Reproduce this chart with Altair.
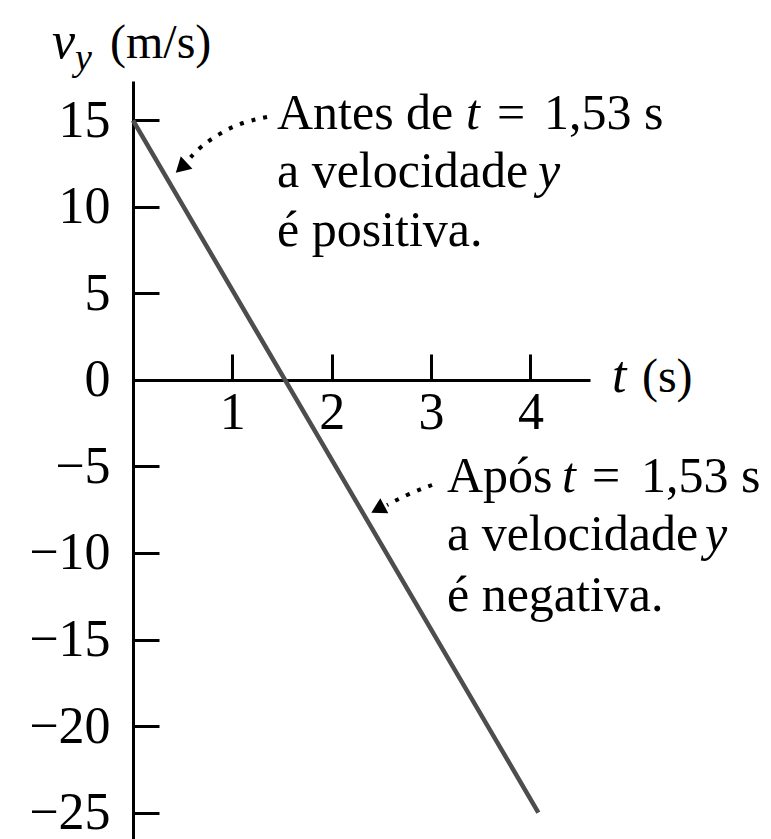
import altair as alt
import pandas as pd

# Vertical velocity of a ball thrown upward at 15 m/s (t in s, v_y in m/s)
t_line = [0.0, 1.53, 4.08]
v_line = [15.0, 0.0, -25.0]

x_ticks = [1, 2, 3, 4]
y_ticks = [15, 10, 5, 0, -5, -10, -15, -20, -25]

x_domain = [0.0, 4.6]
y_domain = [-26.53, 17.28]

# dotted pointer arrows (axis units), drawn in order
arrow_id = [1, 1, 1, 1, 1, 2, 2, 2]
arrow_seq = [0, 1, 2, 3, 4, 0, 1, 2]
arrow_t = [1.349, 1.107, 0.876, 0.674, 0.574, 3.010, 2.768, 2.557]
arrow_v = [15.20, 14.91, 14.28, 13.47, 12.83, -6.07, -6.59, -7.23]

head_t = [0.503, 2.486]
head_v = [12.37, -7.40]
head_angle = [227, 242]

# upright annotation text
note_txt = ["Antes de", "=", "1,53 s", "a velocidade", "é positiva.",
            "Após", "=", "1,53 s", "a velocidade", "é negativa."]
note_t = [1.449, 3.664, 4.137, 1.449, 1.449, 3.160, 4.620, 5.113, 3.160, 3.160]
note_v = [14.51, 14.51, 14.51, 11.16, 7.75, -6.47, -6.47, -6.47, -9.83, -13.35]

# italic symbols inside the annotations
sym_txt = ["t", "y", "t", "y"]
sym_t = [3.352, 4.077, 4.318, 5.757]
sym_v = [14.51, 11.16, -6.47, -9.83]

# axis titles: v_y (m/s) and t (s)
title_txt = ["(m/s)", "(s)"]
title_t = [-0.2315, 5.123]
title_v = [18.61, -0.69]
title_sym = ["v", "t"]
title_sym_t = [-0.815, 4.821]
title_sym_v = [18.61, -0.69]
sub_txt = ["y"]
sub_t = [-0.584]
sub_v = [17.9]

W, H = 457, 758
FONT = "Liberation Serif"

px_per_v = H / (y_domain[1] - y_domain[0])
zero_y = y_domain[1] * px_per_v  # pixel row of v = 0 from the top of the plot

line_df = pd.DataFrame({"t": t_line, "v": v_line})
arrow_df = pd.DataFrame({"id": arrow_id, "seq": arrow_seq, "t": arrow_t, "v": arrow_v})
head_df = pd.DataFrame({"t": head_t, "v": head_v, "angle": head_angle})
note_df = pd.DataFrame({"t": note_t, "v": note_v, "txt": note_txt})
sym_df = pd.DataFrame({"t": sym_t, "v": sym_v, "txt": sym_txt})
title_df = pd.DataFrame({"t": title_t, "v": title_v, "txt": title_txt})
title_sym_df = pd.DataFrame({"t": title_sym_t, "v": title_sym_v, "txt": title_sym})
sub_df = pd.DataFrame({"t": sub_t, "v": sub_v, "txt": sub_txt})

x_scale = alt.Scale(domain=x_domain, nice=False, zero=False)
y_scale = alt.Scale(domain=y_domain, nice=False, zero=False)

label_style = dict(labelFont=FONT, labelFontSize=52, labelColor="black",
                   grid=False, title="")

# velocity line; carries the labelled axes (x axis crossing at v = 0)
velocity = alt.Chart(line_df).mark_line(color="#4d4d4d", strokeWidth=4.5).encode(
    x=alt.X("t:Q", scale=x_scale,
            axis=alt.Axis(orient="bottom", offset=-(H - zero_y), values=x_ticks,
                          ticks=False, tickSize=0, domainColor="black", domainWidth=3,
                          labelPadding=8, labelFlush=False, labelBaseline="top",
                          **label_style)),
    y=alt.Y("v:Q", scale=y_scale,
            axis=alt.Axis(orient="left", values=y_ticks, ticks=False, tickSize=0,
                          domainColor="black", domainWidth=3, labelPadding=23,
                          labelFlush=False, **label_style)),
)

# invisible copy that carries the inward-pointing tick marks
tick_marks = alt.Chart(line_df).mark_line(strokeOpacity=0).encode(
    x=alt.X("t:Q", scale=x_scale,
            axis=alt.Axis(orient="top", offset=-zero_y, values=x_ticks, labels=False,
                          domain=False, tickSize=26, tickWidth=3, tickColor="black",
                          grid=False, title="")),
    y=alt.Y("v:Q", scale=y_scale,
            axis=alt.Axis(orient="right", offset=-W, values=y_ticks, labels=False,
                          domain=False, tickSize=26, tickWidth=3, tickColor="black",
                          grid=False, title="")),
)

arrows = alt.Chart(arrow_df).mark_line(
    color="black", strokeWidth=4, strokeDash=[4, 8], interpolate="basis"
).encode(
    x=alt.X("t:Q", scale=x_scale, axis=None),
    y=alt.Y("v:Q", scale=y_scale, axis=None),
    detail="id:N",
    order="seq:Q",
)

heads = alt.Chart(head_df).mark_point(
    shape="triangle", filled=True, color="black", size=290, opacity=1
).encode(
    x=alt.X("t:Q", scale=x_scale, axis=None),
    y=alt.Y("v:Q", scale=y_scale, axis=None),
    angle=alt.Angle("angle:Q", scale=None),
)


def text_layer(df, size, italic):
    kw = dict(align="left", baseline="alphabetic", font=FONT, fontSize=size, color="black")
    if italic:
        kw["fontStyle"] = "italic"
    return alt.Chart(df).mark_text(**kw).encode(
        x=alt.X("t:Q", scale=x_scale, axis=None),
        y=alt.Y("v:Q", scale=y_scale, axis=None),
        text="txt:N",
    )


chart = alt.layer(
    velocity,
    tick_marks,
    arrows,
    heads,
    text_layer(note_df, 50, False),
    text_layer(sym_df, 50, True),
    text_layer(title_df, 48, False),
    text_layer(title_sym_df, 52, True),
    text_layer(sub_df, 38, True),
).resolve_axis(
    x="independent", y="independent"
).properties(
    width=W,
    height=H,
    autosize=alt.AutoSizeParams(type="none"),
    padding={"left": 133, "top": 81, "right": 181, "bottom": 0},
    background="white",
).configure_view(strokeWidth=0)

chart.save("out.html", embed_options={"renderer": "svg", "actions": False})
